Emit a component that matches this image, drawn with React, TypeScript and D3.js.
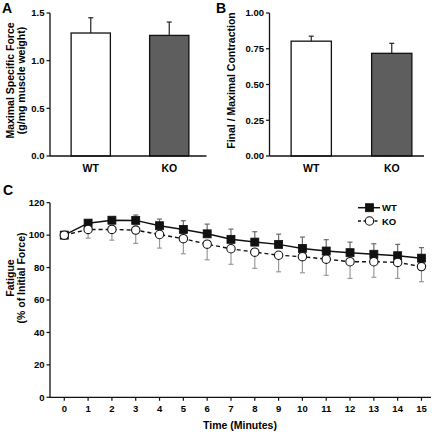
import React from "react";
import * as d3 from "d3";

const barCats = ["WT", "KO"];
const forceVals = [1.29, 1.265];
const forceErr = [0.16, 0.14];
const ratioVals = [0.803, 0.718];
const ratioErr = [0.035, 0.07];
const forceTicks = [0, 0.5, 1.0, 1.5];
const ratioTicks = [0, 0.25, 0.5, 0.75, 1.0];

const minutes = [0, 1, 2, 3, 4, 5, 6, 7, 8, 9, 10, 11, 12, 13, 14, 15];
const wtVals = [100, 107.4, 109.2, 109.1, 105.8, 103.5, 100.8, 97.4, 95.7, 94.3, 91.8, 90.2, 89.2, 88.2, 87.3, 85.8];
const wtErr = [0, 1.2, 1.5, 3.3, 4.1, 5.4, 6.0, 6.3, 6.4, 6.3, 7.0, 7.0, 6.5, 6.5, 7.0, 6.5];
const koVals = [100, 103.5, 103.5, 103.1, 100.4, 97.8, 94.4, 91.6, 89.5, 87.6, 86.7, 85.2, 83.6, 83.6, 83.2, 80.6];
const koErr = [0, 5.4, 6.6, 8.2, 8.4, 9.3, 9.6, 9.6, 10.0, 10.2, 9.9, 10.0, 10.3, 9.6, 9.9, 9.3];
const fatigueTicks = [0, 20, 40, 60, 80, 100, 120];

const FONT = "'Liberation Sans', Arial, sans-serif";

function BarPanel({ x0, x1, axisEnd, yTop, yBot, max, ticks, fmt, vals, errs, titles, titleX, letter, letterX }) {
  const x = d3.scaleBand().domain(barCats).range([x0, x1]).paddingInner(0.5).paddingOuter(0.25);
  const y = d3.scaleLinear().domain([0, max]).range([yBot, yTop]);
  const axisX = x0 - 1.5;
  const fills = ["#ffffff", "#5e5e5e"];
  const cy = (yTop + yBot) / 2 - 4;
  return (
    <g>
      <text x={letterX} y={13} fontSize={14} fontWeight="bold" fontFamily={FONT}>{letter}</text>
      {barCats.map((c, i) => {
        const bx = x(c);
        const cx = bx + x.bandwidth() / 2;
        return (
          <g key={c}>
            <line x1={cx} x2={cx} y1={y(vals[i])} y2={y(vals[i] + errs[i])} stroke="#222" strokeWidth={1.2} />
            <line x1={cx - 2.5} x2={cx + 2.5} y1={y(vals[i] + errs[i])} y2={y(vals[i] + errs[i])} stroke="#222" strokeWidth={1.2} />
            <rect x={bx} y={y(vals[i])} width={x.bandwidth()} height={yBot - y(vals[i])} fill={fills[i]} stroke="#111" strokeWidth={1.3} />
            <text x={cx} y={172} textAnchor="middle" fontSize={10.5} fontWeight="bold" fontFamily={FONT}>{c}</text>
          </g>
        );
      })}
      <line x1={axisX} x2={axisX} y1={y(max)} y2={yBot} stroke="#111" strokeWidth={1.3} />
      <line x1={axisX} x2={axisEnd} y1={yBot} y2={yBot} stroke="#111" strokeWidth={1.3} />
      {ticks.map((t) => (
        <g key={t}>
          <line x1={axisX - 3.5} x2={axisX} y1={y(t)} y2={y(t)} stroke="#111" strokeWidth={1.2} />
          <text x={axisX - 5.5} y={y(t) + 3.3} textAnchor="end" fontSize={9.5} fontWeight="bold" fontFamily={FONT}>{fmt(t)}</text>
        </g>
      ))}
      {titles.map((t, i) => (
        <text key={i} transform={`translate(${titleX + i * 11},${cy}) rotate(-90)`} textAnchor="middle" fontSize={10.5} fontWeight="bold" fontFamily={FONT}>{t}</text>
      ))}
    </g>
  );
}

function Square({ cx, cy }) {
  return <rect x={cx - 4} y={cy - 4} width={8} height={8} fill="#111" stroke="#111" strokeWidth={0.8} />;
}
function Circle({ cx, cy }) {
  return <circle cx={cx} cy={cy} r={4.2} fill="#fff" stroke="#111" strokeWidth={1.1} />;
}

function FatiguePanel() {
  const x = d3.scaleLinear().domain([-0.6, 15.4]).range([50, 431]);
  const y = d3.scaleLinear().domain([0, 120]).range([397.3, 202.7]);
  const axisX = 50;
  const wtData = minutes.map((m, i) => [m, wtVals[i]] as [number, number]);
  const koData = minutes.map((m, i) => [m, koVals[i]] as [number, number]);
  const line = d3.line().x((d) => x(d[0])).y((d) => y(d[1]));
  return (
    <g>
      <text x={3} y={195} fontSize={14} fontWeight="bold" fontFamily={FONT}>C</text>
      {minutes.map((m, i) => (
        koErr[i] > 0 ? (
          <g key={"ke" + m}>
            <line x1={x(m)} x2={x(m)} y1={y(koVals[i])} y2={y(koVals[i] - koErr[i])} stroke="#9a9a9a" strokeWidth={1.2} />
            <line x1={x(m) - 2.5} x2={x(m) + 2.5} y1={y(koVals[i] - koErr[i])} y2={y(koVals[i] - koErr[i])} stroke="#9a9a9a" strokeWidth={1.2} />
          </g>
        ) : null
      ))}
      {minutes.map((m, i) => (
        wtErr[i] > 0 ? (
          <g key={"we" + m}>
            <line x1={x(m)} x2={x(m)} y1={y(wtVals[i])} y2={y(wtVals[i] + wtErr[i])} stroke="#6a6a6a" strokeWidth={1.2} />
            <line x1={x(m) - 2.5} x2={x(m) + 2.5} y1={y(wtVals[i] + wtErr[i])} y2={y(wtVals[i] + wtErr[i])} stroke="#6a6a6a" strokeWidth={1.2} />
          </g>
        ) : null
      ))}
      <path d={line(koData)} fill="none" stroke="#111" strokeWidth={1.4} strokeDasharray="4,3" />
      <path d={line(wtData)} fill="none" stroke="#111" strokeWidth={1.5} />
      {minutes.map((m, i) => <Square key={"s" + m} cx={x(m)} cy={y(wtVals[i])} />)}
      {minutes.map((m, i) => <Circle key={"c" + m} cx={x(m)} cy={y(koVals[i])} />)}
      <line x1={axisX} x2={axisX} y1={y(120)} y2={y(0)} stroke="#111" strokeWidth={1.3} />
      <line x1={axisX} x2={431} y1={y(0)} y2={y(0)} stroke="#111" strokeWidth={1.3} />
      {fatigueTicks.map((t) => (
        <g key={t}>
          <line x1={axisX - 3.5} x2={axisX} y1={y(t)} y2={y(t)} stroke="#111" strokeWidth={1.2} />
          <text x={axisX - 5.5} y={y(t) + 3.3} textAnchor="end" fontSize={9.5} fontWeight="bold" fontFamily={FONT}>{t}</text>
        </g>
      ))}
      {minutes.map((m) => (
        <g key={"t" + m}>
          <line x1={x(m)} x2={x(m)} y1={y(0)} y2={y(0) + 3.5} stroke="#111" strokeWidth={1.2} />
          <text x={x(m)} y={y(0) + 15} textAnchor="middle" fontSize={9.5} fontWeight="bold" fontFamily={FONT}>{m}</text>
        </g>
      ))}
      <text x={240} y={429} textAnchor="middle" fontSize={10.5} fontWeight="bold" fontFamily={FONT}>Time (Minutes)</text>
      <text transform={`translate(14,278) rotate(-90)`} textAnchor="middle" fontSize={10.5} fontWeight="bold" fontFamily={FONT}>Fatigue</text>
      <text transform={`translate(25,278) rotate(-90)`} textAnchor="middle" fontSize={10.5} fontWeight="bold" fontFamily={FONT}>(% of Initial Force)</text>
      {/* legend */}
      <line x1={358} x2={380} y1={207.7} y2={207.7} stroke="#111" strokeWidth={1.5} />
      <Square cx={369.5} cy={207.7} />
      <text x={382} y={211} fontSize={9.5} fontWeight="bold" fontFamily={FONT}>WT</text>
      <line x1={358} x2={380} y1={221} y2={221} stroke="#111" strokeWidth={1.4} strokeDasharray="3,2.5" />
      <Circle cx={369.5} cy={221} />
      <text x={382} y={224.5} fontSize={9.5} fontWeight="bold" fontFamily={FONT}>KO</text>
    </g>
  );
}

export default function App() {
  return (
    <svg width={433} height={440} style={{ position: "absolute", left: 0, top: 0, background: "#fff" }}>
      <rect width={433} height={440} fill="#fff" />
      <BarPanel x0={51.5} x1={208.5} axisEnd={206.5} yTop={13} yBot={156} max={1.5} ticks={forceTicks}
        fmt={(t) => d3.format(".1f")(t)} vals={forceVals} errs={forceErr}
        titles={["Maximal Specific Force", "(g/mg muscle weight)"]} titleX={13.5} letter="A" letterX={2} />
      <BarPanel x0={271} x1={432} axisEnd={424} yTop={13} yBot={156} max={1.0} ticks={ratioTicks}
        fmt={(t) => d3.format(".2f")(t)} vals={ratioVals} errs={ratioErr}
        titles={["Final / Maximal Contraction"]} titleX={235} letter="B" letterX={216} />
      <FatiguePanel />
    </svg>
  );
}
